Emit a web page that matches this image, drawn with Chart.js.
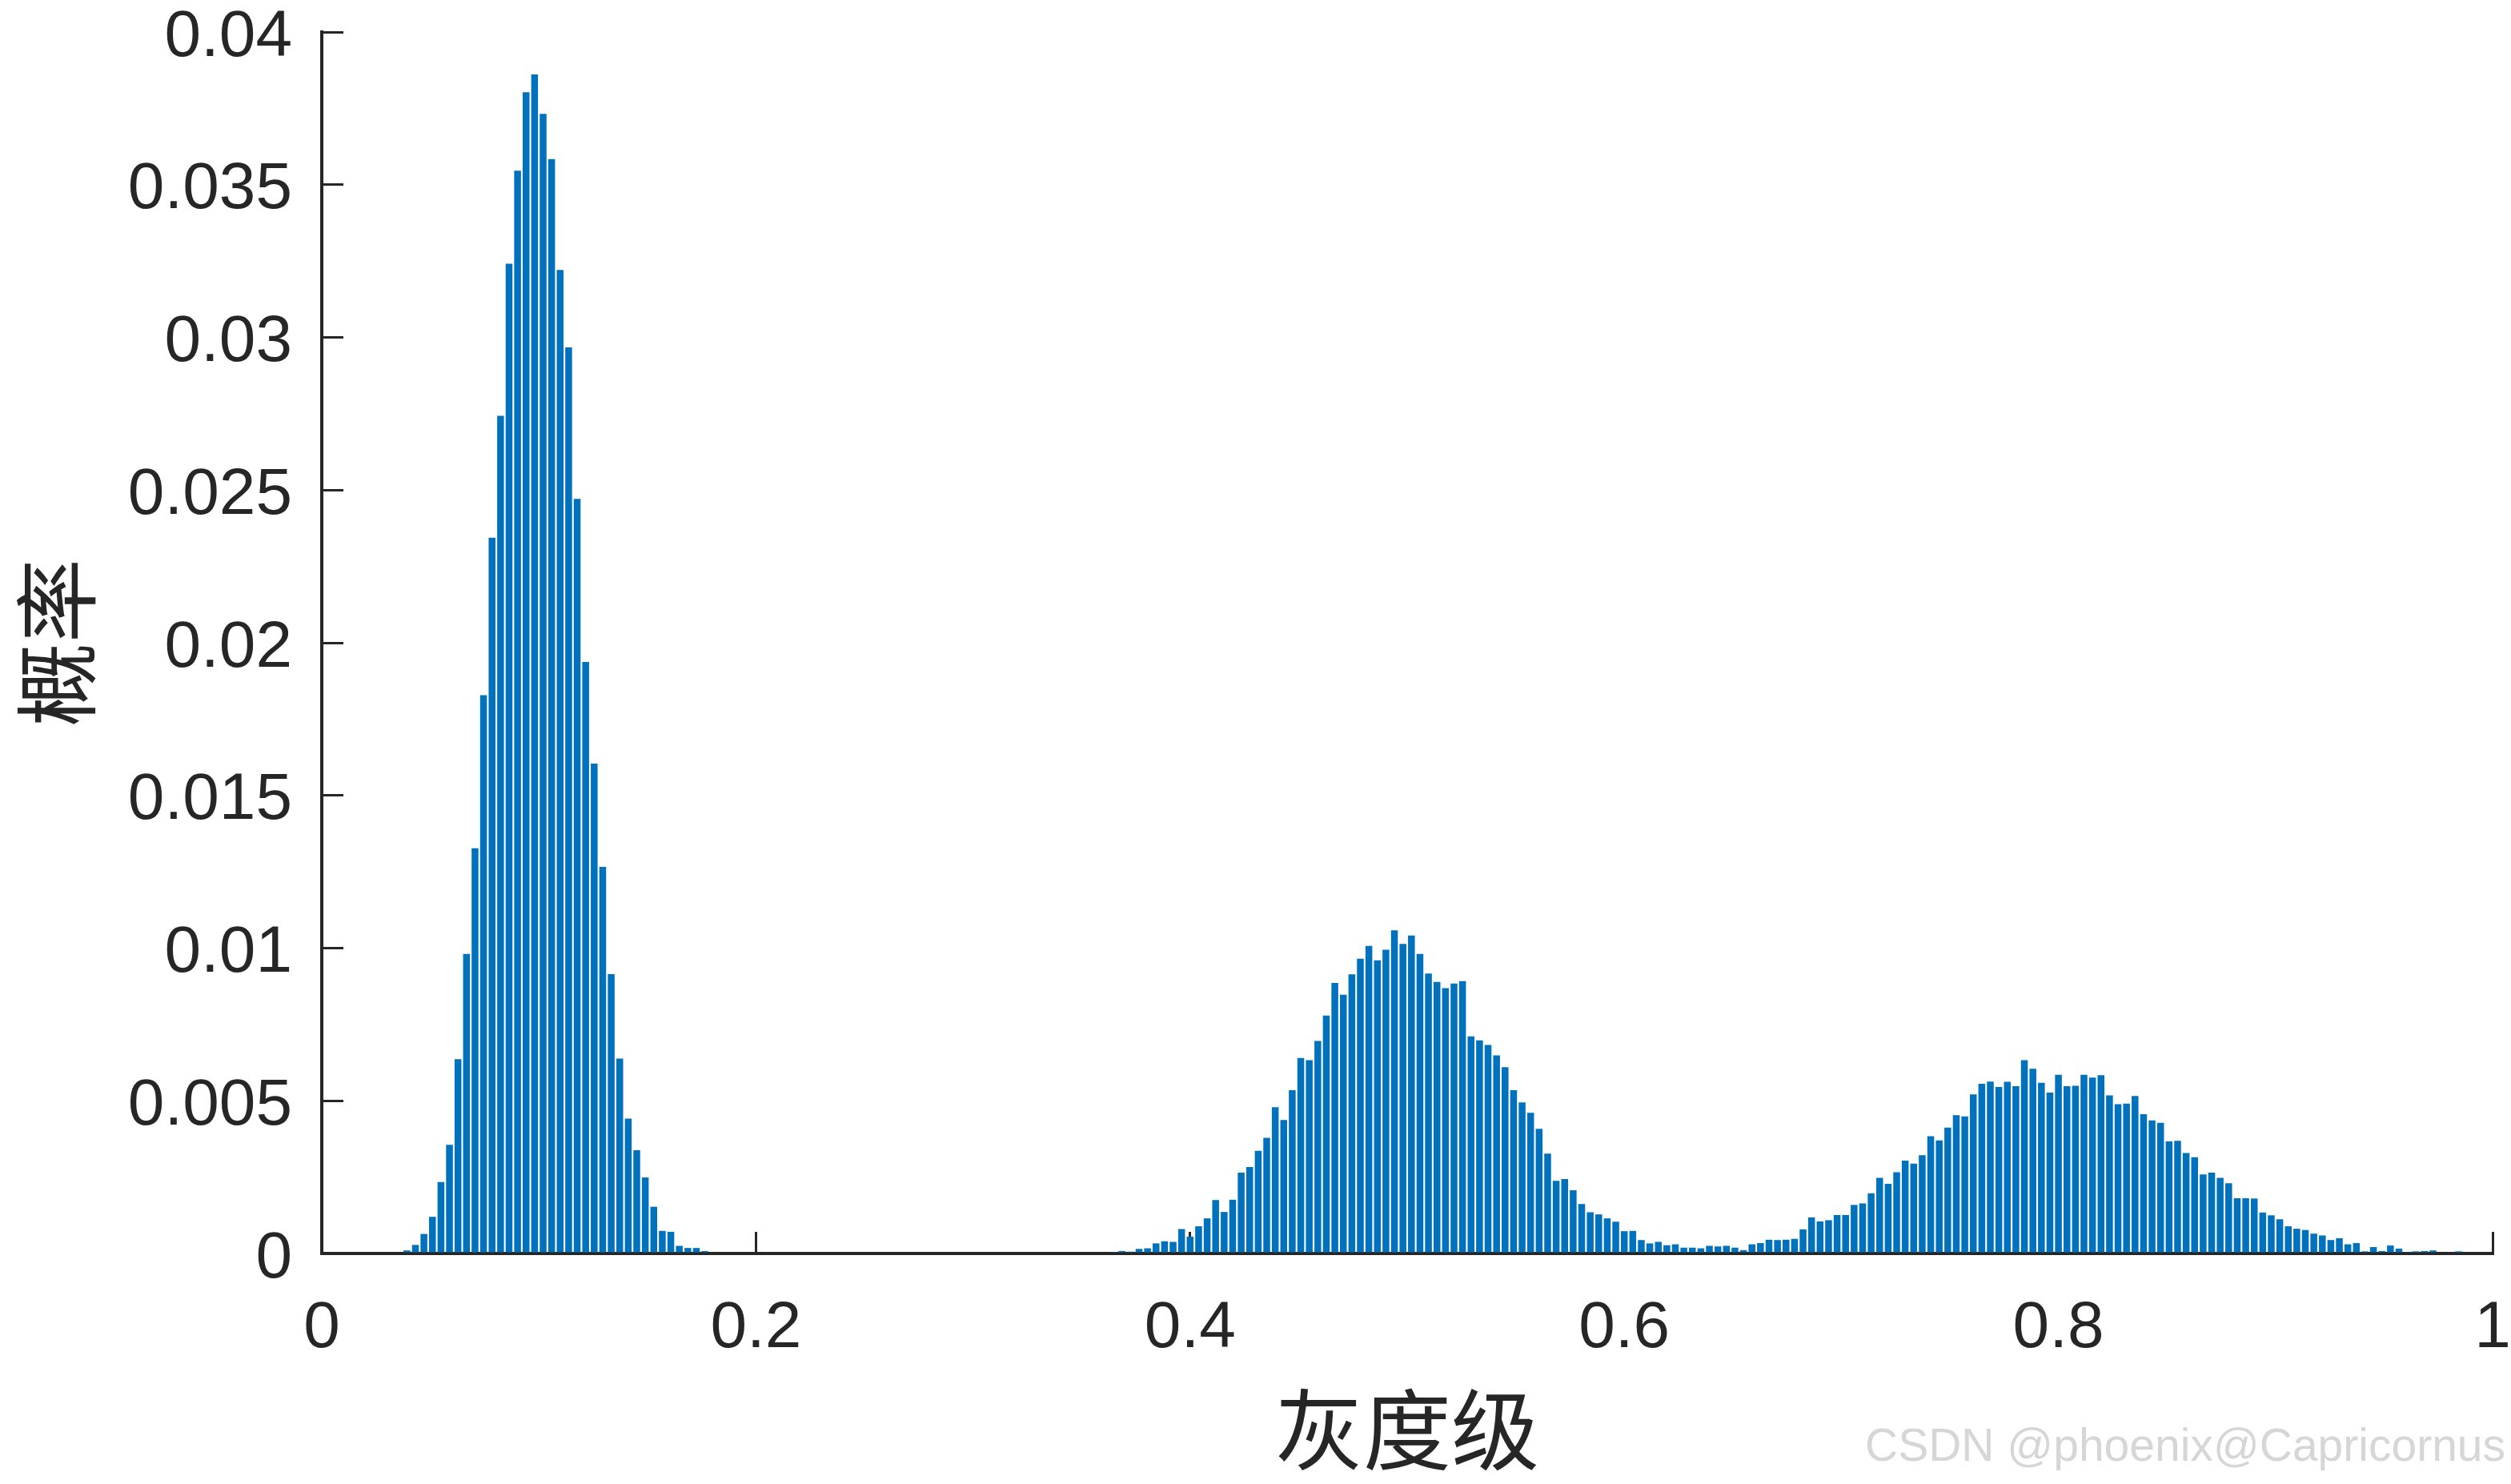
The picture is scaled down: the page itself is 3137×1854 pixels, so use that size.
<!DOCTYPE html>
<html>
<head>
<meta charset="utf-8">
<script src="https://cdn.jsdelivr.net/npm/chart.js@4.4.1/dist/chart.umd.min.js"></script>
<style>
  html, body { margin: 0; padding: 0; background: #fff; }
  #wrap { position: relative; width: 3137px; height: 1854px; }
  #mark {
    position: absolute; left: 2330px; top: 1777px;
    font: 57px "Liberation Sans", Arial, sans-serif;
    line-height: 1; color: #d6d6d6; white-space: nowrap;
  }
</style>
</head>
<body>
<div id="wrap">
  <canvas id="histChart"></canvas>
  <div id="mark">CSDN @phoenix@Capricornus</div>
</div>
<script>
// 256 gray levels, bin k sits at k/255
const binCount = 256;

// probability per gray level
const probability = [
  0, 0, 0, 0, 0, 0, 0, 0, 0, 0, 0.0001, 0.00028, 0.00064, 0.0012, 0.00234, 0.00356,
  0.00636, 0.00981, 0.01327, 0.01828, 0.02344, 0.02743, 0.03241, 0.03546, 0.03803, 0.03861, 0.03732, 0.03584, 0.03221, 0.02967, 0.02471, 0.01937,
  0.01604, 0.01266, 0.00915, 0.00638, 0.00442, 0.00338, 0.00249, 0.00153, 0.00074, 0.00071, 0.00025, 0.00018, 0.00018, 0.00008, 0, 0,
  0, 0, 0, 0, 0, 0, 0, 0, 0, 0, 0, 0, 0, 0, 0, 0,
  0, 0, 0, 0, 0, 0, 0, 0, 0, 0, 0, 0, 0, 0, 0, 0,
  0, 0, 0, 0, 0, 0, 0, 0, 0, 0, 0, 0, 0, 0.00005, 0.00008, 0.00006,
  0.00015, 0.00017, 0.00033, 0.0004, 0.00038, 0.0008, 0.00055, 0.00089, 0.00115, 0.00175, 0.00136, 0.00176, 0.00265, 0.00283, 0.00336, 0.00379,
  0.00479, 0.00437, 0.00535, 0.0064, 0.00633, 0.00696, 0.00779, 0.00886, 0.00847, 0.00914, 0.00965, 0.01007, 0.0096, 0.00995, 0.01058, 0.01014,
  0.01041, 0.00981, 0.00917, 0.00889, 0.00869, 0.00884, 0.00892, 0.00711, 0.00698, 0.00683, 0.00649, 0.0061, 0.00535, 0.00495, 0.00461, 0.00408,
  0.00327, 0.00238, 0.00244, 0.00207, 0.00162, 0.00135, 0.00128, 0.00115, 0.00104, 0.00073, 0.00074, 0.00044, 0.00033, 0.00038, 0.00027, 0.0003,
  0.00019, 0.00019, 0.00017, 0.00025, 0.00023, 0.00025, 0.00019, 0.00011, 0.0003, 0.00034, 0.00045, 0.00044, 0.00045, 0.00048, 0.00079, 0.00118,
  0.00105, 0.00109, 0.00126, 0.00126, 0.00159, 0.00164, 0.00197, 0.00248, 0.00228, 0.00266, 0.00304, 0.00294, 0.00322, 0.00384, 0.0037, 0.00412,
  0.00453, 0.00449, 0.00521, 0.00556, 0.00563, 0.00545, 0.00562, 0.00548, 0.00633, 0.00605, 0.00559, 0.00527, 0.00585, 0.00548, 0.00549, 0.00585,
  0.00576, 0.00584, 0.00518, 0.00489, 0.00491, 0.00516, 0.00456, 0.00436, 0.00428, 0.00367, 0.00369, 0.00329, 0.00315, 0.00259, 0.00265, 0.00248,
  0.0023, 0.00181, 0.00181, 0.0018, 0.00134, 0.00125, 0.00112, 0.00089, 0.00081, 0.00077, 0.00065, 0.00059, 0.00044, 0.0005, 0.0003, 0.00034,
  0.00007, 0.00021, 0.00008, 0.00026, 0.00016, 0.00005, 0.00007, 0.00008, 0.0001, 0, 0, 0.00007, 0, 0, 0, 0
];

const xTicks = [0, 0.2, 0.4, 0.6, 0.8, 1];
const yTicks = [0, 0.005, 0.01, 0.015, 0.02, 0.025, 0.03, 0.035, 0.04];
const xTitle = '灰度级';
const yTitle = '概率';

const points = probability.map((p, k) => ({ x: k / (binCount - 1), y: p }));

const axisColor = '#262626';
const tickFont = { family: '"Liberation Sans", Arial, sans-serif', size: 82 };
const cjkFont = '"Noto Sans CJK SC", sans-serif';
const fmt = v => String(+v.toFixed(4));

new Chart(document.getElementById('histChart'), {
  type: 'bar',
  data: {
    datasets: [{
      data: points,
      backgroundColor: '#0072BD',
      borderWidth: 0,
      barPercentage: 0.8,
      categoryPercentage: 1.0
    }]
  },
  options: {
    responsive: true,
    maintainAspectRatio: false,
    animation: false,
    layout: { padding: { left: 0, top: 40, right: 23, bottom: 0 } },
    plugins: { legend: { display: false }, tooltip: { enabled: false } },
    scales: {
      x: {
        type: 'linear',
        min: 0,
        max: 1,
        offset: false,
        afterBuildTicks: s => { s.ticks = xTicks.map(v => ({ value: v })); },
        ticks: { font: tickFont, color: axisColor, padding: 72, maxRotation: 0, autoSkip: false, callback: fmt },
        grid: { offset: false, drawOnChartArea: false, drawTicks: true, tickLength: -27, color: axisColor, lineWidth: 3 },
        border: { display: true, color: axisColor, width: 4 },
        title: {
          display: true, text: xTitle, color: axisColor,
          font: { family: cjkFont, size: 110 },
          padding: { top: 0, bottom: 2 }
        },
        afterFit: s => { s.height = 288; s.paddingLeft = 0; s.paddingRight = 0; }
      },
      y: {
        min: 0,
        max: 0.04,
        afterBuildTicks: s => { s.ticks = yTicks.map(v => ({ value: v })); },
        ticks: { font: tickFont, color: axisColor, padding: 64, labelOffset: 7, autoSkip: false, callback: fmt },
        grid: { offset: false, drawOnChartArea: false, drawTicks: true, tickLength: -27, color: axisColor, lineWidth: 3 },
        border: { display: true, color: axisColor, width: 4 },
        title: {
          display: true, text: yTitle, color: axisColor,
          font: { family: cjkFont, size: 105 },
          padding: { top: 7, bottom: 0 }
        },
        afterFit: s => { s.width = 402; s.paddingTop = 0; s.paddingBottom = 0; }
      }
    }
  }
});
</script>
</body>
</html>
